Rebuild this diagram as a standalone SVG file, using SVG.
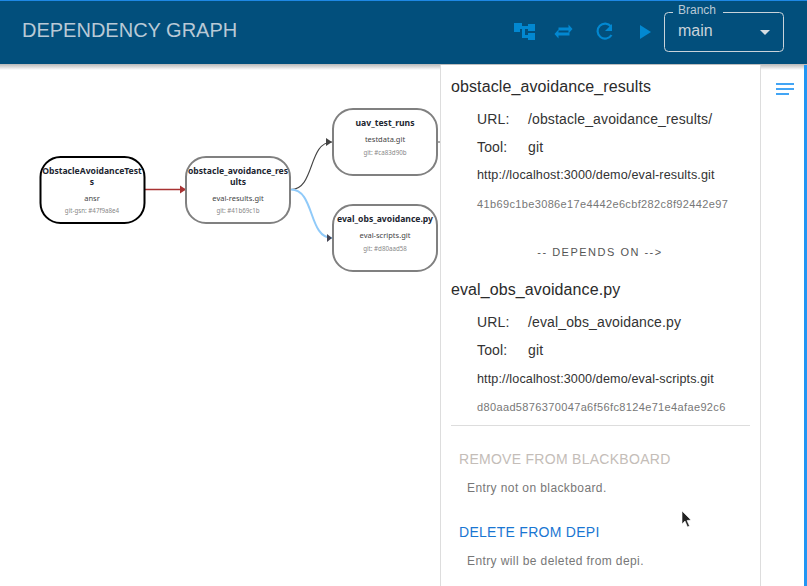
<svg xmlns="http://www.w3.org/2000/svg" width="807" height="586" viewBox="0 0 807 586">
<defs>
<linearGradient id="hs" x1="0" y1="0" x2="0" y2="1"><stop offset="0" stop-color="#000" stop-opacity=".28"/><stop offset="1" stop-color="#000" stop-opacity="0"/></linearGradient>
<marker id="mr" markerUnits="userSpaceOnUse" markerWidth="7" markerHeight="10" refX="6" refY="5" orient="auto"><path d="M0 1L6 5L0 9Z" fill="#a83232"/></marker>
<marker id="mk" markerUnits="userSpaceOnUse" markerWidth="7" markerHeight="10" refX="6" refY="5" orient="auto"><path d="M0 1L6 5L0 9Z" fill="#444"/></marker>
</defs>
<style>
text{font-family:"Liberation Sans",Arial,sans-serif}
.node{fill:#fff;stroke:#808080;stroke-width:2}
.t{font-family:"Noto Sans","DejaVu Sans",sans-serif;font-size:8.6px;font-weight:700;fill:#1c2530;text-anchor:middle}
.s{font-family:"Noto Sans","DejaVu Sans",sans-serif;font-size:7.5px;fill:#444;text-anchor:middle}
.h{font-family:"Noto Sans","DejaVu Sans",sans-serif;font-size:6.2px;fill:#888;text-anchor:middle}
.e{fill:none}
.hd{font-size:16px;fill:#2b2b2b;letter-spacing:.1px}
.k{font-size:14px;fill:#333;letter-spacing:.13px}
.u{font-size:12.600px;fill:#333;letter-spacing:.12px}
.g{font-size:11px;fill:#777;letter-spacing:.36px}
.b{font-size:14px;letter-spacing:.28px}
.n{font-size:12px;fill:#777;letter-spacing:.4px}
.ic{fill:#0288d1}
</style>
<rect width="807" height="586" fill="#fff"/>
<g id="connectors">
<path class="e" d="M145 189.500H186" stroke="#a83232" stroke-width="1.500" marker-end="url(#mr)"/>
<path class="e" d="M291 189.500C315 189.500 308 142 332 142" stroke="#444" stroke-width="1.100" marker-end="url(#mk)"/>
<path class="e" d="M291 189.500C315 189.500 308 238 332 238" stroke="#90caf9" stroke-width="2"/>
<path d="M327 234L332 238L327 242Z" fill="#445"/>
<path d="M437 142H441" stroke="#555" stroke-width="1"/>
</g>
<g id="n1"><rect x="40.500" y="157" width="104" height="66" rx="20" fill="#fff" stroke="#000" stroke-width="2"/>
<text class="t" x="92" y="174">ObstacleAvoidanceTest</text><text class="t" x="92" y="185">s</text><text class="s" x="92" y="201">ansr</text><text class="h" x="92" y="213">git-gsn: #47f9a8e4</text></g>
<g id="n2"><rect class="node" x="186" y="157" width="104" height="66" rx="20"/>
<text class="t" x="238" y="174">obstacle_avoidance_res</text><text class="t" x="238" y="185">ults</text><text class="s" x="238" y="201">eval-results.git</text><text class="h" x="238" y="213">git: #41b69c1b</text></g>
<g id="n3"><rect class="node" x="333" y="109" width="104" height="66" rx="20"/>
<text class="t" x="385" y="126">uav_test_runs</text><text class="s" x="385" y="142">testdata.git</text><text class="h" x="385" y="155">git: #ca83d90b</text></g>
<g id="n4"><rect class="node" x="333" y="205" width="104" height="66" rx="20"/>
<text class="t" x="385" y="222">eval_obs_avoidance.py</text><text class="s" x="385" y="238">eval-scripts.git</text><text class="h" x="385" y="251">git: #d80aad58</text></g>
<g id="header">
<rect y="64" width="807" height="6" fill="url(#hs)"/>
<rect width="807" height="64" fill="#024f7c"/><rect width="807" height="1" fill="#1e88e5"/>
<text x="22" y="37" font-size="20" fill="#b9c9d6">DEPENDENCY GRAPH</text>
<path class="ic" d="M514 23h8v3h6v-2h7v7h-7v-2h-3v6h3v-2h7v7h-7v-2h-6v-9h-2v3h-6z"/>
<path class="ic" d="M559 33h11v3h-11v3l-4-4.500 4-4.500zM569 25l4 4.500-4 4.500v-3h-10v-3h10z" transform="translate(-.5 -.5)"/>
<path d="M611 26.500A7.500 7.500 0 1 0 611.500 35" fill="none" stroke="#0288d1" stroke-width="2.200"/><path class="ic" d="M612 24v7h-7z"/>
<path class="ic" d="M640 25L651 32L640 39Z"/>
<rect x="664.500" y="12.500" width="119" height="39" rx="4" fill="none" stroke="#c9d3da"/>
<rect x="673" y="8" width="50" height="8" fill="#024f7c"/>
<text x="678" y="14" font-size="12" fill="#b9c9d6">Branch</text>
<text x="678" y="36" font-size="16" fill="#c9d3da">main</text>
<path d="M760 30h10l-5 5z" fill="#d5dde3"/>
</g>
<g id="panel">
<rect x="440" y="65" width="321" height="521" fill="#fff"/>
<path d="M440.500 65V586M760.500 65V586" stroke="#ddd"/>
<text class="hd" x="451" y="92">obstacle_avoidance_results</text>
<text class="k" x="477" y="124">URL:</text><text class="k" x="528" y="124">/obstacle_avoidance_results/</text>
<text class="k" x="477" y="152">Tool:</text><text class="k" x="528" y="152">git</text>
<text class="u" x="477" y="179">http://localhost:3000/demo/eval-results.git</text>
<text class="g" x="477" y="208">41b69c1be3086e17e4442e6cbf282c8f92442e97</text>
<text x="600" y="256" font-size="11" fill="#555" text-anchor="middle" letter-spacing="1.500">-- DEPENDS ON --&gt;</text>
<text class="hd" x="451" y="295">eval_obs_avoidance.py</text>
<text class="k" x="477" y="327">URL:</text><text class="k" x="528" y="327">/eval_obs_avoidance.py</text>
<text class="k" x="477" y="355">Tool:</text><text class="k" x="528" y="355">git</text>
<text class="u" x="477" y="383">http://localhost:3000/demo/eval-scripts.git</text>
<text class="g" x="477" y="411">d80aad5876370047a6f56fc8124e71e4afae92c6</text>
<path d="M451 425.500H750" stroke="#ddd"/>
<text class="b" x="459" y="464" fill="#c4bdb8">REMOVE FROM BLACKBOARD</text>
<text class="n" x="467" y="492">Entry not on blackboard.</text>
<text class="b" x="459" y="537" fill="#1976d2">DELETE FROM DEPI</text>
<text class="n" x="467" y="565">Entry will be deleted from depi.</text>
</g>
<g id="sidebar">
<rect x="804" y="65" width="3" height="521" fill="#2196f3"/>
<path d="M776 83h18v2h-18zM776 88h18v2h-18zM776 93h13v2h-13z" fill="#42a5f5"/>
</g>
<path id="cursor" d="M682 511V524L685 521L687.500 527L689.500 526L687 520.500L691 520Z" fill="#222" stroke="#fff" stroke-width=".6"/>
</svg>
